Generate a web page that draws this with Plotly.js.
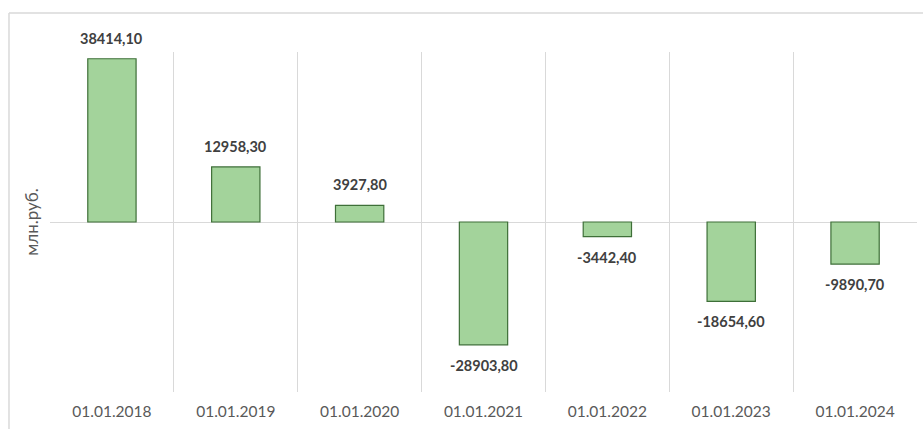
<!DOCTYPE html>
<html>
<head>
<meta charset="utf-8">
<script src="https://cdn.plot.ly/plotly-3.0.1.min.js"></script>
<style>html,body{margin:0;padding:0;background:#fff;}#chart{width:923px;height:429px;}</style>
</head>
<body>
<div id="chart"></div>
<script>
const categories = ["01.01.2018","01.01.2019","01.01.2020","01.01.2021","01.01.2022","01.01.2023","01.01.2024"];
const values = [38414.10, 12958.30, 3927.80, -28903.80, -3442.40, -18654.60, -9890.70];
const yTitle = "млн.руб.";

const labels = values.map(v => v.toFixed(2).replace('.', ','));

const trace = {
  type: 'bar',
  x: categories,
  y: values,
  marker: {color: '#a3d39b', line: {color: '#3e6f38', width: 1.2}},
  hoverinfo: 'skip'
};

const annotations = values.map((v, i) => ({
  x: categories[i], y: v, xref: 'x', yref: 'y',
  text: '<b>' + labels[i] + '</b>',
  showarrow: false,
  yanchor: v >= 0 ? 'bottom' : 'top',
  yshift: v >= 0 ? 10 : -10,
  font: {family: 'Lato, "Open Sans", sans-serif', size: 14.5, color: '#404040'}
}));

const layout = {
  width: 923, height: 429,
  margin: {l: 50, r: 6, t: 52, b: 37},
  paper_bgcolor: '#fff', plot_bgcolor: '#fff',
  showlegend: false,
  bargap: 0.61,
  xaxis: {
    type: 'category',
    tickson: 'boundaries',
    showgrid: true, gridcolor: '#d9d9d9', gridwidth: 1,
    ticks: '', showline: false, zeroline: false,
    ticklabelstandoff: 8,
    tickfont: {family: 'Lato, "Open Sans", sans-serif', size: 15.5, color: '#595959'}
  },
  yaxis: {
    range: [-40000, 40000],
    showgrid: false, showticklabels: false, ticks: '',
    zeroline: true, zerolinecolor: '#d9d9d9', zerolinewidth: 1,
    title: {text: yTitle, standoff: 6, font: {family: 'Lato, "Open Sans", sans-serif', size: 17, color: '#595959'}}
  },
  annotations: annotations,
  shapes: [
    {type: 'line', xref: 'paper', yref: 'paper', x0: -0.0473, x1: 1.01, y0: 1.1147, y1: 1.1147, line: {color: '#d9d9d9', width: 1.5}},
    {type: 'line', xref: 'paper', yref: 'paper', x0: -0.0473, x1: -0.0473, y0: 1.1147, y1: -0.12, line: {color: '#d9d9d9', width: 1.5}}
  ]
};

Plotly.newPlot('chart', [trace], layout, {staticPlot: true, displayModeBar: false});
</script>
</body>
</html>
